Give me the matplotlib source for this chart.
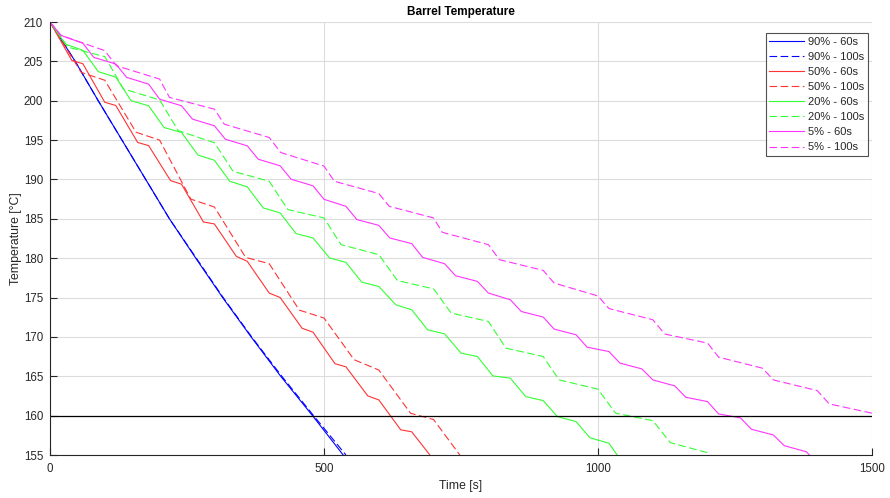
import matplotlib
matplotlib.use("Agg")
import matplotlib.pyplot as plt

plt.rcParams['font.family'] = ['Liberation Sans', 'DejaVu Sans']
plt.rcParams['lines.scale_dashes'] = False

# ---------------- data ----------------
t_90_60 = [0, 46, 88, 218, 266, 315, 367, 421, 479, 535]
T_90_60 = [210, 205, 200, 185, 180, 175, 170, 165, 160, 155]

t_90_100 = [0, 46, 88, 218, 267, 316, 368, 423, 481, 540]
T_90_100 = [210, 205, 200, 185, 180, 175, 170, 165, 160, 155]

t_50_60 = [0, 40, 60, 100, 120, 160, 180, 220, 240, 280, 300, 340, 360, 400,
           420, 460, 480, 520, 540, 580, 600, 640, 660, 700]
T_50_60 = [210, 205.1, 204.7, 199.8, 199.4, 194.7, 194.3, 189.85, 189.4, 184.6,
           184.35, 180.23, 179.6, 175.57, 175.0, 171.1, 170.6, 166.6, 166.2,
           162.5, 162.0, 158.2, 157.95, 154.4]

t_50_100 = [0, 57, 100, 157, 200, 257, 300, 357, 400, 455, 500, 555, 600, 658,
            700, 750]
T_50_100 = [210, 203.6, 202.6, 196.0, 195.0, 187.5, 186.5, 180.1, 179.3, 173.4,
            172.4, 167.1, 165.8, 160.3, 159.5, 154.8]

t_20_60 = [0, 28, 60, 88, 120, 148, 180, 208, 240, 270, 300, 328, 360, 389, 420,
           449, 480, 510, 540, 569, 600, 631, 660, 689, 720, 750, 780, 808, 840,
           868, 900, 926, 960, 985, 1020, 1045]
T_20_60 = [210, 207.2, 206.4, 203.7, 203.0, 200.0, 199.36, 196.6, 195.97, 193.1,
           192.44, 189.77, 189.06, 186.39, 185.75, 183.12, 182.57, 180.03, 179.47,
           176.95, 176.41, 174.08, 173.45, 170.9, 170.39, 167.94, 167.51, 165.05,
           164.76, 162.42, 161.91, 159.87, 159.24, 157.2, 156.49, 154.0]

t_20_100 = [0, 33, 100, 134, 200, 234, 300, 334, 400, 434, 500, 531, 600, 634,
            700, 732, 800, 832, 900, 929, 1000, 1032, 1100, 1132, 1200, 1220]
T_20_100 = [210, 206.8, 205.6, 201.5, 200.1, 196.2, 194.66, 191.04, 189.77,
            186.17, 185.11, 181.72, 180.45, 177.16, 176.1, 173.03, 171.96, 168.57,
            167.51, 164.54, 163.36, 160.31, 159.36, 156.57, 155.29, 153.5]

t_5_60 = [0, 20, 60, 80, 120, 140, 180, 200, 240, 260, 300, 320, 360, 380, 420,
          440, 480, 500, 540, 560, 600, 620, 660, 680, 720, 740, 780, 800, 840,
          860, 900, 920, 960, 980, 1020, 1040, 1080, 1100, 1140, 1160, 1200, 1220,
          1260, 1280, 1320, 1340, 1380, 1400]
T_5_60 = [210, 208.3, 207.3, 205.5, 204.66, 202.96, 202.11, 200.2, 199.36, 197.66,
          196.82, 195.11, 194.27, 192.57, 191.73, 190.03, 189.19, 187.48, 186.59,
          184.9, 184.17, 182.57, 181.85, 180.1, 179.3, 177.77, 177.05, 175.57,
          174.72, 173.23, 172.52, 170.99, 170.27, 168.7, 168.14, 166.67, 165.94,
          164.54, 163.78, 162.34, 161.78, 160.22, 159.71, 158.27, 157.54, 156.18,
          155.42, 154.0]

t_5_100 = [0, 20, 100, 121, 200, 218, 300, 318, 400, 421, 500, 519, 600, 619, 700,
           716, 800, 820, 900, 920, 1000, 1020, 1100, 1122, 1200, 1220, 1300, 1320,
           1400, 1422, 1500]
T_5_100 = [210, 208.3, 206.36, 204.45, 202.75, 200.42, 198.93, 197.02, 195.33,
           193.42, 191.7, 189.77, 188.21, 186.59, 185.11, 183.28, 181.72, 179.81,
           178.45, 176.84, 175.2, 173.6, 172.18, 170.36, 169.21, 167.43, 166.03,
           164.54, 163.18, 161.49, 160.31]

limit_T = 160
x_ticks = [0, 500, 1000, 1500]
y_ticks = list(range(155, 211, 5))

series = [
    ("90% - 60s", t_90_60, T_90_60, "#0000ff", "-"),
    ("90% - 100s", t_90_100, T_90_100, "#0000ff", "--"),
    ("50% - 60s", t_50_60, T_50_60, "#ff3333", "-"),
    ("50% - 100s", t_50_100, T_50_100, "#ff3333", "--"),
    ("20% - 60s", t_20_60, T_20_60, "#33ff33", "-"),
    ("20% - 100s", t_20_100, T_20_100, "#33ff33", "--"),
    ("5% - 60s", t_5_60, T_5_60, "#ff33ff", "-"),
    ("5% - 100s", t_5_100, T_5_100, "#ff33ff", "--"),
]

# ---------------- figure ----------------
fig = plt.figure(figsize=(8.9, 4.98), dpi=100)
ax = fig.add_axes([50 / 890, 1 - 455 / 498, (872 - 50) / 890, (455 - 22) / 498])

for label, t, T, c, ls in series:
    if ls == "--":
        ax.plot(t, T, color=c, lw=0.8, linestyle=(0, (5.5, 2.5)), label=label)
    else:
        ax.plot(t, T, color=c, lw=0.8, linestyle="-", label=label)

ax.axhline(limit_T, color="black", lw=0.9)

ax.set_xlim(0, 1500)
ax.set_ylim(155, 210)
ax.set_xticks(x_ticks)
ax.set_yticks(y_ticks)
ax.grid(True, color="#dcdcdc", lw=0.8)
ax.set_axisbelow(True)

for s in ("top", "right"):
    ax.spines[s].set_visible(False)
for s in ("left", "bottom"):
    ax.spines[s].set_color("#262626")
    ax.spines[s].set_linewidth(0.8)

ax.tick_params(direction="in", length=5, width=0.8, colors="#262626",
               labelsize=8.3)
ax.tick_params(axis="x", pad=6)
ax.tick_params(axis="y", pad=5)

ax.set_title("Barrel Temperature", fontsize=8.5, fontweight="bold", pad=5)
ax.set_xlabel("Time [s]", fontsize=8.8, color="#262626", labelpad=3)
ax.set_ylabel("Temperature [°C]", fontsize=8.8, color="#262626", labelpad=1.5)

leg = ax.legend(loc="upper right", bbox_to_anchor=(0.995, 0.975), fontsize=8,
                frameon=True, fancybox=False, handlelength=3.15,
                handletextpad=0.3, borderpad=0.35, labelspacing=0.46,
                borderaxespad=0.0)
leg.get_frame().set_edgecolor("#262626")
leg.get_frame().set_linewidth(0.8)
for txt in leg.get_texts():
    txt.set_color("#262626")

fig.savefig("out.png", dpi=100, facecolor="white")
